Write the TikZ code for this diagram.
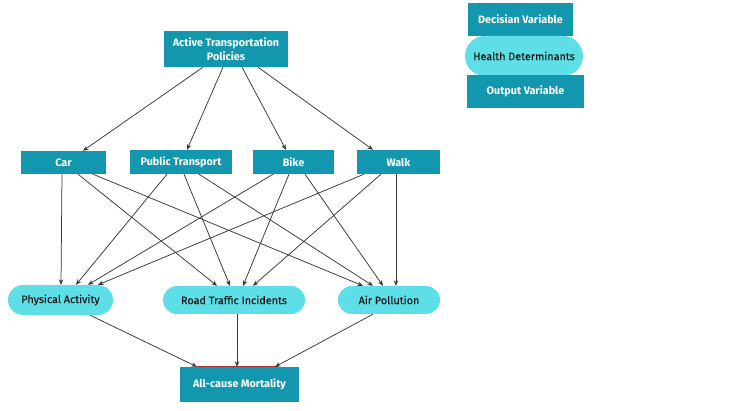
\documentclass[tikz,border=0pt]{standalone}
\usepackage{fontspec}
\setmainfont{Fira Sans}
\newfontfamily\medfont[FakeBold=0.4]{Fira Sans}
\usetikzlibrary{arrows.meta}
\definecolor{darkbox}{RGB}{19,151,174}
\definecolor{lightbox}{RGB}{94,222,230}
\definecolor{edgecol}{RGB}{55,55,55}
\definecolor{redline}{RGB}{170,50,50}
\tikzset{
  decbox/.style={draw=none, fill=darkbox, text=white, font=\bfseries\fontsize{10.8}{13.5}\selectfont, align=center, inner sep=0pt},
  hdbox/.style={draw=none, fill=lightbox, text=black!90, font=\medfont\fontsize{10.8}{13.5}\selectfont, align=center, inner sep=0pt},
  arr/.style={draw=edgecol, line width=0.75pt, -{Stealth[length=5.5pt,width=4.5pt]}},
}
\begin{document}
\begin{tikzpicture}[x=1pt,y=-1pt]
\useasboundingbox (0,0) rectangle (731,411);
% nodes
\node[decbox, minimum width=124pt, minimum height=36pt] (atp) at (226,49) {Active Transportation\\Policies};
\node[decbox, minimum width=85pt, minimum height=23pt] (car) at (63.5,162.5) {Car};
\node[decbox, minimum width=102pt, minimum height=24pt] (pt) at (181,162) {Public Transport};
\node[decbox, minimum width=81pt, minimum height=24pt] (bike) at (293.5,162) {Bike};
\node[decbox, minimum width=83pt, minimum height=24pt] (walk) at (398.5,162) {Walk};
\node[hdbox, rounded corners=15pt, minimum width=105pt, minimum height=30pt] (pa) at (60.5,300) {Physical Activity};
\node[hdbox, rounded corners=14pt, minimum width=142pt, minimum height=28pt] (rti) at (234,300) {Road Traffic Incidents};
\node[hdbox, rounded corners=14pt, minimum width=102pt, minimum height=28pt] (ap) at (389,300) {Air Pollution};
\node[decbox, minimum width=119pt, minimum height=35pt] (mort) at (239.5,384.5) {All-cause Mortality};
% legend
\node[decbox, minimum width=105pt, minimum height=33pt] (dv) at (520.5,19.5) {Decisian Variable};
\node[hdbox, rounded corners=20pt, minimum width=118pt, minimum height=40pt] (hd) at (524,56) {Health Determinants};
\node[decbox, minimum width=117pt, minimum height=33pt] (ov) at (525.5,91.5) {Output Variable};
% policy to modes
\draw[arr] ([xshift=-23pt]atp.south) -- ([xshift=19.5pt]car.north);
\draw[arr] ([xshift=-3pt]atp.south) -- ([xshift=6pt]pt.north);
\draw[arr] ([xshift=16pt]atp.south) -- ([xshift=-7.5pt]bike.north);
\draw[arr] ([xshift=32pt]atp.south) -- ([xshift=-25.5pt]walk.north);
% car
\draw[arr] ([xshift=-1.5pt]car.south) -- ([xshift=0.5pt]pa.north);
\draw[arr] ([xshift=14.5pt]car.south) -- ([xshift=-17pt]rti.north);
\draw[arr] ([xshift=29.5pt]car.south) -- ([xshift=-26pt]ap.north);
% public transport
\draw[arr] ([xshift=-14pt]pt.south) -- ([xshift=15.5pt]pa.north);
\draw[arr] ([xshift=3pt]pt.south) -- ([xshift=-4pt]rti.north);
\draw[arr] ([xshift=18pt]pt.south) -- ([xshift=-16pt]ap.north);
% bike
\draw[arr] ([xshift=-20.5pt]bike.south) -- ([xshift=27.5pt]pa.north);
\draw[arr] ([xshift=-4.5pt]bike.south) -- ([xshift=9pt]rti.north);
\draw[arr] ([xshift=11.5pt]bike.south) -- ([xshift=-6pt]ap.north);
% walk
\draw[arr] ([xshift=-34.5pt]walk.south) -- ([xshift=37.5pt]pa.north);
\draw[arr] ([xshift=-17.5pt]walk.south) -- ([xshift=19pt]rti.north);
\draw[arr] ([xshift=-2.5pt]walk.south) -- ([xshift=7pt]ap.north);
% to mortality
\draw[redline, line width=1pt] ([xshift=-42.5pt]mort.north) -- ([xshift=38.5pt]mort.north);
\draw[arr] ([xshift=29.5pt]pa.south) -- ([xshift=-42.5pt]mort.north);
\draw[arr] ([xshift=3pt]rti.south) -- ([xshift=-2.5pt]mort.north);
\draw[arr] ([xshift=-16pt]ap.south) -- ([xshift=35.5pt]mort.north);
\end{tikzpicture}
\end{document}
